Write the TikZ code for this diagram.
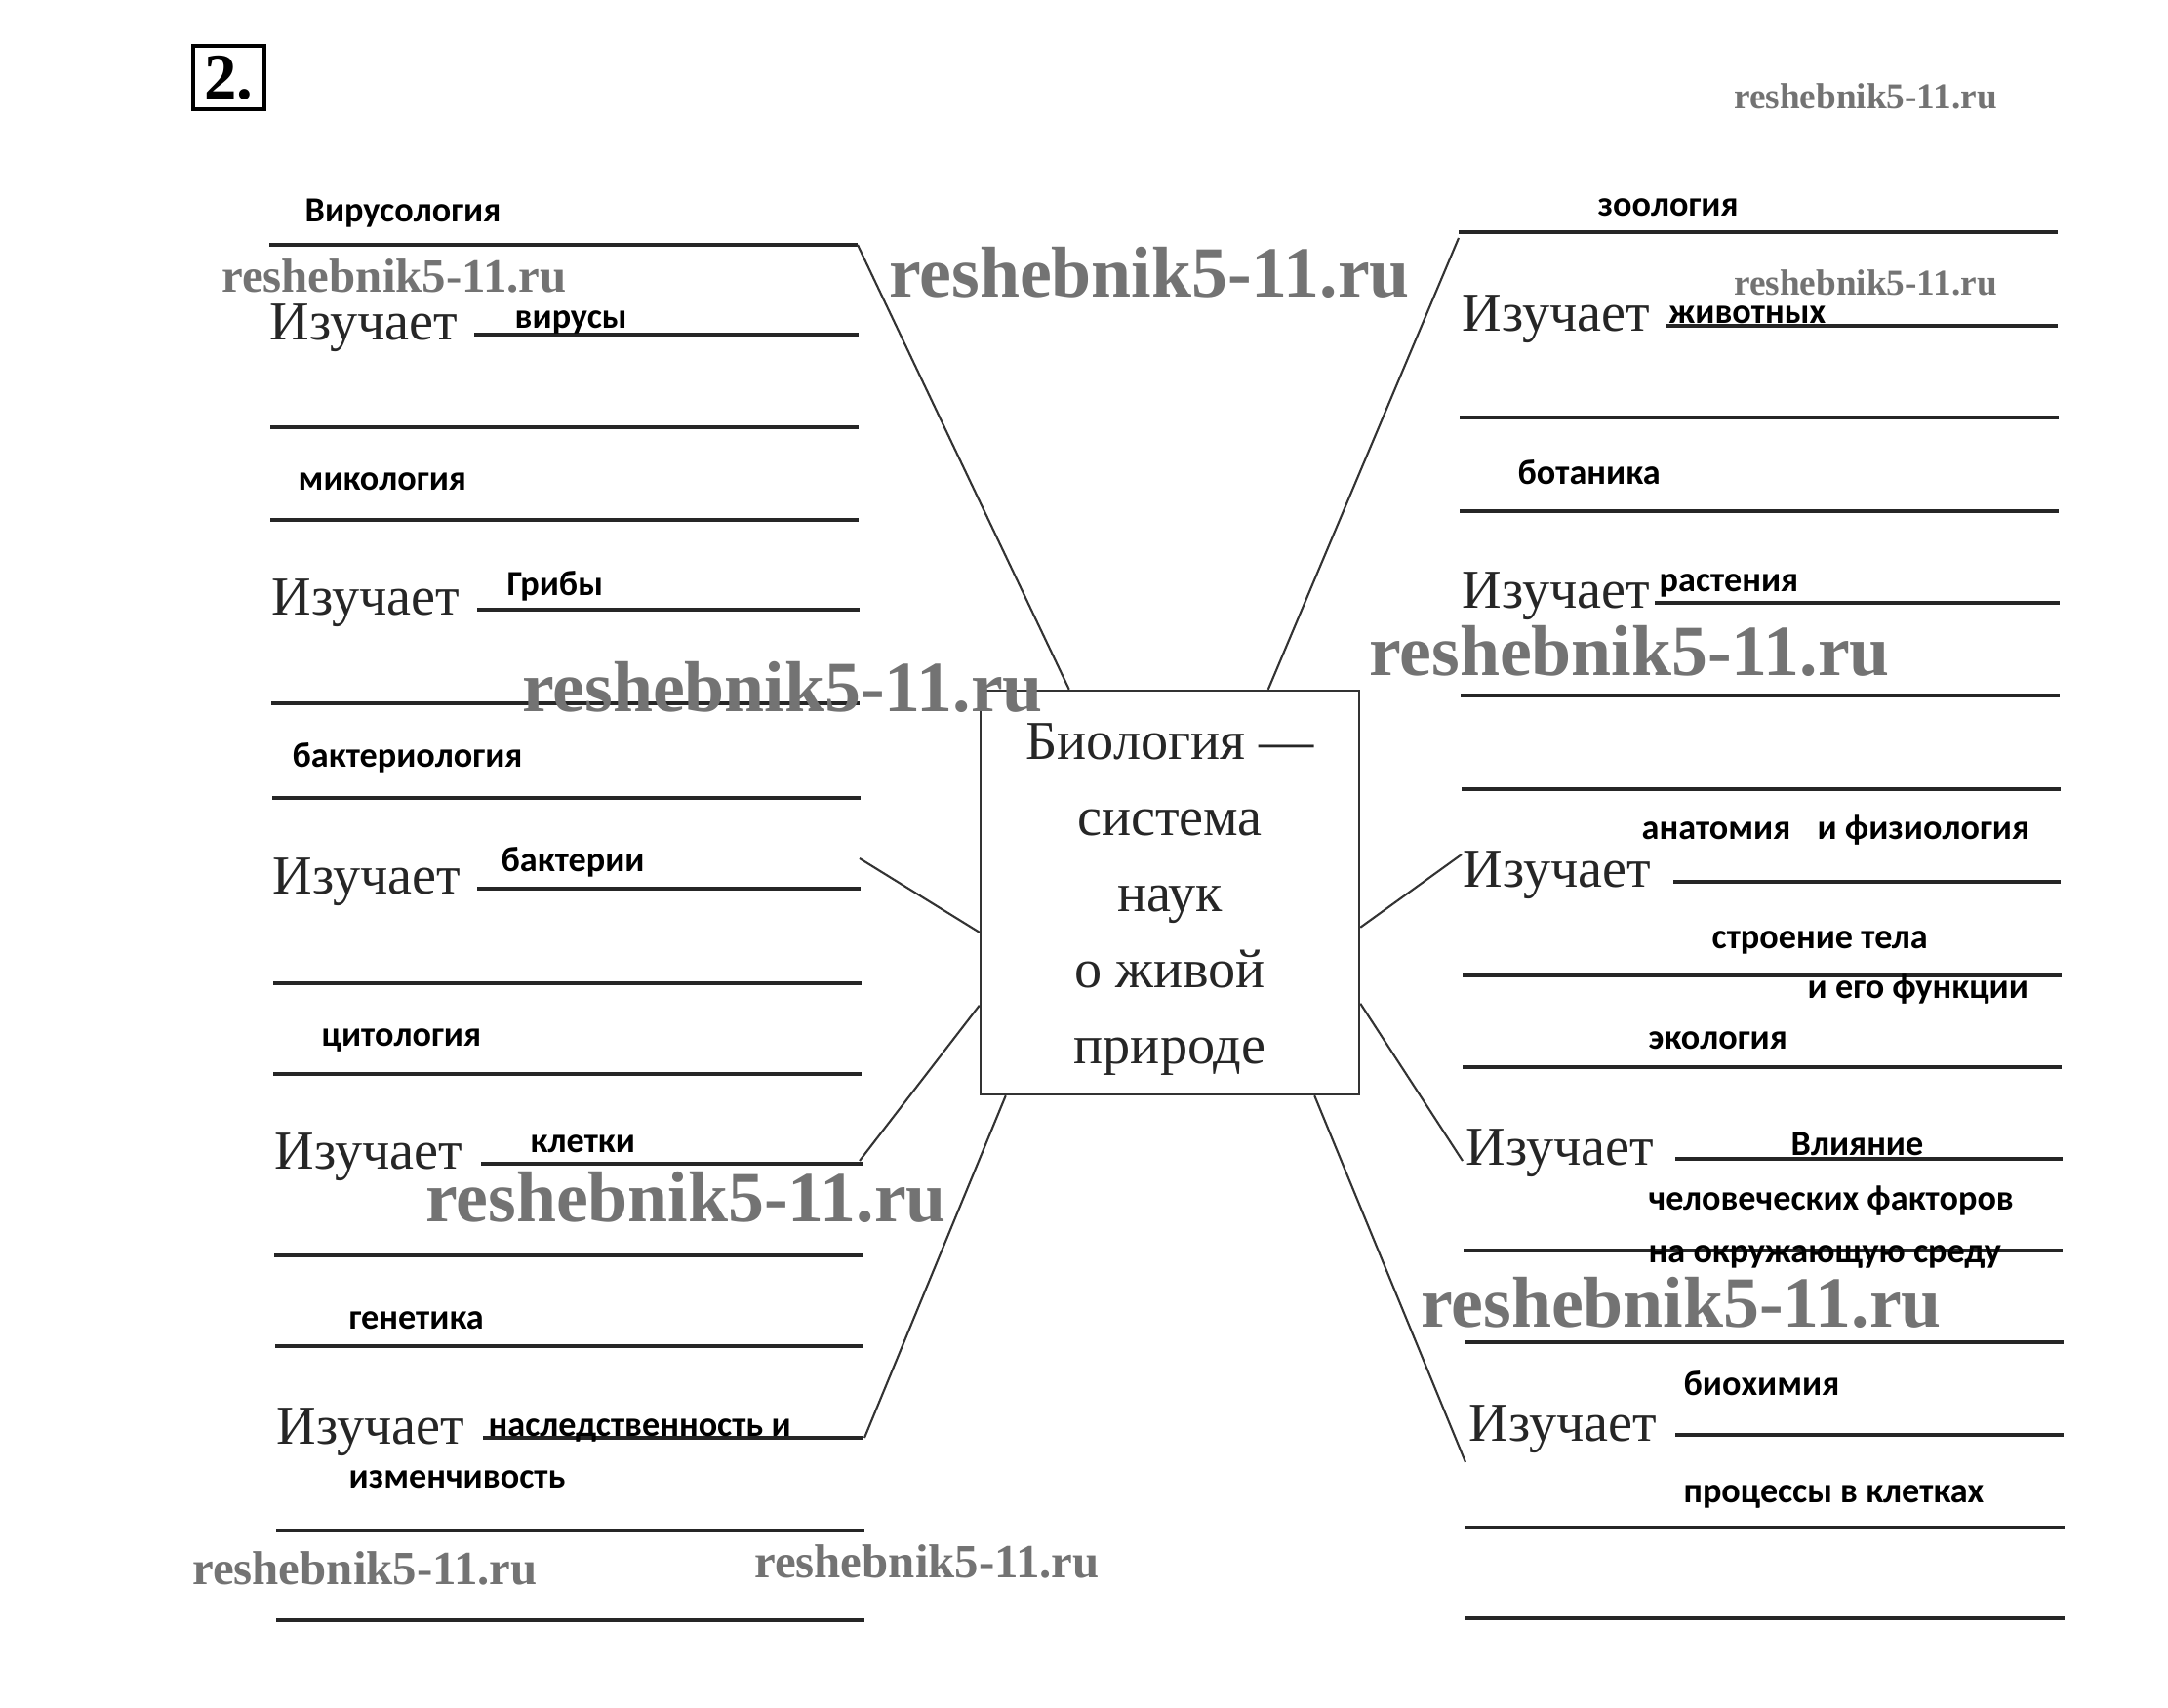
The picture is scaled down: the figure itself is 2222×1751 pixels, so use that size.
\documentclass[tikz,border=0pt]{standalone}
\usepackage{fontspec}
\setmainfont{Liberation Serif}
\newfontfamily\handfont{Carlito}
\usetikzlibrary{calc}

\tikzset{
 rule/.style={line width=1pt, black!85},
 conn/.style={line width=0.6pt, black!80},
 ans/.style={anchor=base west, inner sep=0, font=\handfont\bfseries\fontsize{10.3}{12}\selectfont},
 izu/.style={anchor=base west, inner sep=0, font=\fontsize{16}{18}\selectfont, text=black!85},
 wms/.style={inner sep=0, font=\bfseries\fontsize{10.6}{12}\selectfont, text=black!55},
 wmm/.style={inner sep=0, font=\bfseries\fontsize{13.9}{16}\selectfont, text=black!55},
 wmb/.style={inner sep=0, font=\bfseries\fontsize{21}{24}\selectfont, text=black!55},
 centre/.style={draw, line width=0.7pt, black!80, minimum width=38.8mm, minimum height=41.4mm, inner sep=0},
}

\begin{document}
\begin{tikzpicture}[x=0.1mm,y=-0.1mm]
\useasboundingbox (0,0) rectangle (2222,1751);

% task number
\node[draw, line width=1.3pt, minimum width=7.3mm, minimum height=6.5mm, inner sep=0, font=\bfseries\fontsize{19}{20}\selectfont] (num) at (234.5,79.5) {2.};

% central box
\node[centre] (bio) at (1199,915) {};
\node[align=center, inner sep=0, text=black!85, font=\fontsize{16}{22.2}\selectfont] (biotext) at (1199,922) {Биология —\\система\\наук\\о живой\\природе};

% ---------- left column rules ----------
\draw[rule] (276,251) -- coordinate[pos=1] (la1) (879,251);
\draw[rule] (486,343) -- (880,343);
\draw[rule] (277,438) -- (880,438);
\draw[rule] (277,533) -- (880,533);
\draw[rule] (489,625) -- (881,625);
\draw[rule] (278,721) -- (881,721);
\draw[rule] (279,818) -- (882,818);
\draw[rule] (489,911) -- (882,911);
\draw[rule] (280,1008) -- (883,1008);
\draw[rule] (280,1101) -- (883,1101);
\draw[rule] (493,1193) -- (884,1193);
\draw[rule] (281,1287) -- (884,1287);
\draw[rule] (282,1380) -- (885,1380);
\draw[rule] (495,1474) -- (885,1474);
\draw[rule] (283,1569) -- (886,1569);
\draw[rule] (283,1661) -- (886,1661);

% ---------- right column rules ----------
\draw[rule] (1495,238) -- (2109,238);
\draw[rule] (1708,334) -- (2109,334);
\draw[rule] (1496,428) -- (2110,428);
\draw[rule] (1496,524) -- (2110,524);
\draw[rule] (1696,618) -- (2111,618);
\draw[rule] (1497,713) -- (2111,713);
\draw[rule] (1498,809) -- (2112,809);
\draw[rule] (1715,904) -- (2112,904);
\draw[rule] (1499,1000) -- (2113,1000);
\draw[rule] (1499,1094) -- (2113,1094);
\draw[rule] (1717,1188) -- (2114,1188);
\draw[rule] (1500,1282) -- (2114,1282);
\draw[rule] (1501,1376) -- (2115,1376);
\draw[rule] (1717,1471) -- (2115,1471);
\draw[rule] (1502,1566) -- (2116,1566);
\draw[rule] (1502,1659) -- (2116,1659);

% connector free ends
\coordinate (lb2) at (881,880);
\coordinate (la3) at (881,1190);
\coordinate (la4) at (886,1474);
\coordinate (ra1) at (1495,244);
\coordinate (rb2) at (1498,876);
\coordinate (ra3) at (1499,1190);
\coordinate (ra4) at (1502,1499);

% connectors
\draw[conn] ($(bio.north west)+(92,0)$) -- (la1);
\draw[conn] ($(bio.north west)+(0,249)$) -- (lb2);
\draw[conn] ($(bio.north west)+(0,324)$) -- (la3);
\draw[conn] ($(bio.south west)+(27,0)$) -- (la4);
\draw[conn] ($(bio.north west)+(296,0)$) -- (ra1);
\draw[conn] ($(bio.north east)+(0,244)$) -- (rb2);
\draw[conn] ($(bio.north east)+(0,322)$) -- (ra3);
\draw[conn] ($(bio.south east)+(-47,0)$) -- (ra4);

% ---------- "Изучает" labels ----------
\node[izu] (izl1) at (276,349) {Изучает};
\node[izu] (izl2) at (278,631) {Изучает};
\node[izu] (izl3) at (279,917) {Изучает};
\node[izu] (izl4) at (281,1199) {Изучает};
\node[izu] (izl5) at (283,1480) {Изучает};
\node[izu] (izr1) at (1498,340) {Изучает};
\node[izu] (izr2) at (1498,624) {Изучает};
\node[izu] (izr3) at (1499,910) {Изучает};
\node[izu] (izr4) at (1502,1194) {Изучает};
\node[izu] (izr5) at (1505,1477) {Изучает};

% ---------- handwritten answers, left ----------
\node[ans] (a1) at (312,228) {Вирусология};
\node[ans] (a2) at (527,337) {вирусы};
\node[ans] (a3) at (305,503) {микология};
\node[ans] (a4) at (519,611) {Грибы};
\node[ans] (a5) at (299,787) {бактериология};
\node[ans] (a6) at (513,894) {бактерии};
\node[ans] (a7) at (329,1073) {цитология};
\node[ans] (a8) at (543,1182) {клетки};
\node[ans] (a9) at (357,1362) {генетика};
\node[ans] (a10) at (500,1473) {наследственность и};
\node[ans] (a11) at (357,1525) {изменчивость};

% ---------- handwritten answers, right ----------
\node[ans] (b1) at (1637,222) {зоология};
\node[ans] (b2) at (1710,332) {животных};
\node[ans] (b3) at (1555,497) {ботаника};
\node[ans] (b4) at (1700,607) {растения};
\node[ans] (b5) at (1682,861) {анатомия\hspace{0.75em}и физиология};
\node[ans] (b6) at (1754,973) {строение тела};
\node[ans] (b7) at (1852,1024) {и его функции};
\node[ans] (b8) at (1689,1076) {экология};
\node[ans] (b9) at (1835,1185) {Влияние};
\node[ans] (b10) at (1689,1241) {человеческих факторов};
\node[ans] (b11) at (1689,1294) {на окружающую среду};
\node[ans] (b12) at (1725,1430) {биохимия};
\node[ans] (b13) at (1725,1541) {процессы в клетках};

% ---------- watermarks ----------
\node[wms] (w1) at (1912,99) {reshebnik5-11.ru};
\node[wmm] (w2) at (404,283) {reshebnik5-11.ru};
\node[wmb] (w3) at (1178,279) {reshebnik5-11.ru};
\node[wms] (w4) at (1912,290) {reshebnik5-11.ru};
\node[wmb] (w5) at (1670,667) {reshebnik5-11.ru};
\node[wmb] (w6) at (802,704) {reshebnik5-11.ru};
\node[wmb] (w7) at (703,1227) {reshebnik5-11.ru};
\node[wmb] (w8) at (1723,1335) {reshebnik5-11.ru};
\node[wmm] (w9) at (374,1608) {reshebnik5-11.ru};
\node[wmm] (w10) at (950,1601) {reshebnik5-11.ru};
\end{tikzpicture}
\end{document}
